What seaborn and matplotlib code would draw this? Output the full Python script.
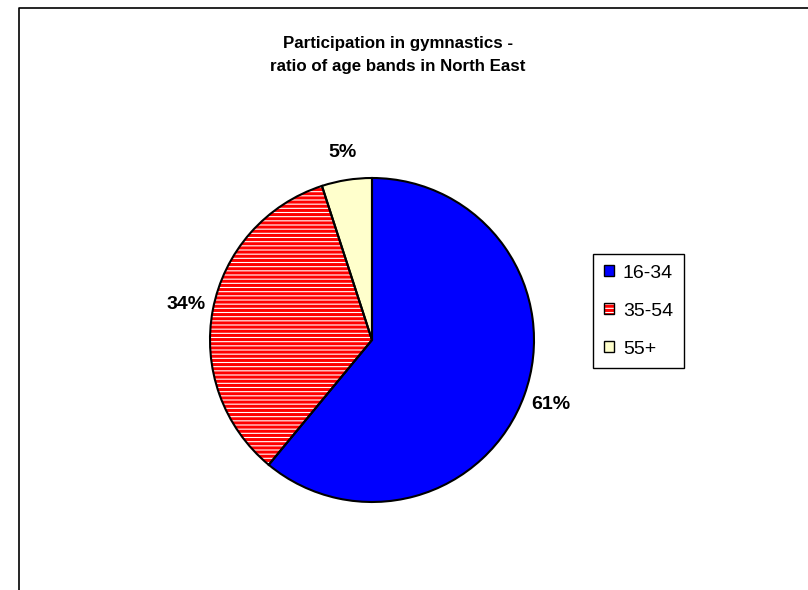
import matplotlib
matplotlib.use("Agg")
import matplotlib.pyplot as plt
import seaborn as sns
from matplotlib.patches import Patch
from matplotlib.lines import Line2D
from matplotlib.legend_handler import HandlerTuple

# ---- data ----
categories = ["16-34", "35-54", "55+"]
shares = [61, 34, 5]
title_lines = ["Participation in gymnastics -", "ratio of age bands in North East"]

sns.set_theme(style="white")
plt.rcParams["font.family"] = ["Liberation Sans", "DejaVu Sans"]
plt.rcParams["text.color"] = "black"
plt.rcParams["hatch.linewidth"] = 2.2
plt.rcParams["patch.force_edgecolor"] = False

fill_colors = ["#0000FF", "#FFFFFF", "#FFFFCC"]
hatch_edge = ["none", "#FF0000", "none"]
hatches = [None, "----", None]

W, H = 808, 590
fig = plt.figure(figsize=(W / 100, H / 100), dpi=100)
fig.patch.set_facecolor("white")

cx, cy, r = 372, 340, 162
ax = fig.add_axes([(cx - r) / W, (H - cy - r) / H, 2 * r / W, 2 * r / H])
ax.set_axis_off()

wedges, _, autotexts = ax.pie(
    shares, colors=fill_colors, startangle=90, counterclock=False,
    autopct=lambda p: f"{p:.0f}%", pctdistance=1.17,
    wedgeprops=dict(linewidth=0),
    textprops=dict(fontsize=14, fontweight="bold", color="black"),
)
for w, ec, h in zip(wedges, hatch_edge, hatches):
    if h:
        w.set_edgecolor(ec)
        w.set_hatch(h)
        w.set_linewidth(0)

# black outlines drawn over the fills
ax.pie(shares, startangle=90, counterclock=False,
       wedgeprops=dict(fill=False, edgecolor="black", linewidth=1.5))
ax.set_xlim(-1, 1)
ax.set_ylim(-1, 1)

# title
fig.text(398 / W, 1 - 55 / H, "\n".join(title_lines), ha="center", va="center",
         fontsize=12.2, fontweight="bold", linespacing=1.6, color="black")

# legend
h1 = Patch(facecolor="#0000FF", edgecolor="black", linewidth=1)
h2 = (Patch(facecolor="white", edgecolor="#FF0000", hatch="----", linewidth=0),
      Patch(fill=False, edgecolor="black", linewidth=1))
h3 = Patch(facecolor="#FFFFCC", edgecolor="black", linewidth=1)
leg = fig.legend([h1, h2, h3], categories, loc="upper left",
                 bbox_to_anchor=(593 / W, 1 - 254 / H), borderaxespad=0,
                 fontsize=14, frameon=True, fancybox=False, shadow=False,
                 framealpha=1, edgecolor="black", handlelength=0.52,
                 handleheight=0.52, handletextpad=0.46, labelspacing=1.08,
                 borderpad=0.55, handler_map={tuple: HandlerTuple(ndivide=1)})
leg.get_frame().set_linewidth(1)
for t in leg.get_texts():
    t.set_color("black")

# outer chart-area frame (left and top edges)
fx, fy = 19 / W, 1 - 8 / H
fig.add_artist(Line2D([fx, fx, 1], [0, fy, fy], transform=fig.transFigure,
                      color="black", linewidth=1.2))

fig.savefig("out.png", dpi=100, facecolor="white")
